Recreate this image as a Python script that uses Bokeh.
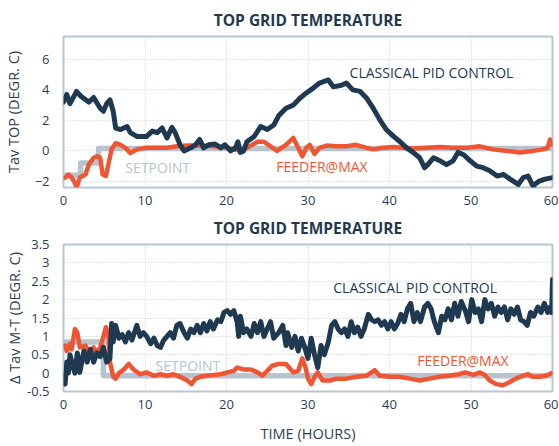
from bokeh.plotting import figure
from bokeh.layouts import column
from bokeh.models import Label, Range1d, FixedTicker
from bokeh.embed import file_html
from bokeh.resources import INLINE

# ---------------- data ----------------
TITLE = "TOP GRID TEMPERATURE"
x_ticks = [0, 10, 20, 30, 40, 50, 60]
x_label = "TIME (HOURS)"

# top panel
top_y_ticks = [-2, 0, 2, 4, 6]
top_y_label = "Tav TOP (DEGR. C)"
top_pid_x = [0, 0.4, 0.8, 1.6, 2.1, 3.1, 3.7, 4.5, 4.9, 5.3, 5.7, 6.1, 6.4, 7, 7.8, 8.2, 9, 10.2, 10.9, 11.5,
             12.1, 12.7, 13.3, 13.7, 14.3, 14.8, 15.6, 16.2, 16.7, 17.2, 17.8, 18.6, 19.3, 19.8, 20.5, 21.1, 21.4,
             21.7, 22.1, 22.5, 23.4, 24.2, 25, 25.8, 26.4, 27.3, 28.2, 29, 29.8, 30.6, 31.4, 32.5, 33.1, 34.1,
             34.7, 35.5, 36.4, 37.2, 38, 38.8, 39.6, 40.5, 41.3, 42.1, 42.9, 43.7, 44.3, 44.7, 45.4, 46.2, 47,
             47.8, 48.4, 49.1, 49.9, 50.7, 51.5, 52.3, 53.2, 54, 54.8, 55.8, 56.4, 57, 57.6, 58.3, 59.1, 60]
top_pid_y = [3.2, 3.7, 3.1, 3.9, 3.6, 3.2, 3.5, 2.8, 2.6, 3.1, 3.35, 2.6, 1.5, 1.4, 1.6, 1.2, 0.95, 0.95, 1.3, 1.2,
             1.5, 0.85, 1.55, 1.2, 0.4, 0, 0.2, 0.4, 0.75, 0.2, 0.4, 0.45, 0.2, 0.4, 0, 0.2, 0.6,
             -0.1, 0, 0.6, 0.95, 1.6, 1.4, 1.7, 2.3, 2.8, 3.0, 3.45, 3.8, 4.1, 4.45, 4.65, 4.2, 4.3,
             4.45, 4.0, 3.9, 3.45, 2.8, 2.05, 1.4, 0.95, 0.6, 0.2, -0.1, -0.45, -1.1, -0.9, -0.45, -0.65, -0.9,
             -0.65, -0.1, -0.25, -0.65, -1.0, -1.1, -1.3, -1.65, -1.55, -1.85, -2.2, -1.75, -1.65, -2.3, -2.0, -1.85, -1.75]
top_feed_x = [0.2, 0.6, 1, 1.4, 1.6, 2, 2.7, 3.1, 3.7, 4.1, 4.5, 4.8, 5.2, 5.5, 5.9, 6.4, 7, 7.6, 8.2, 9,
              10.2, 11.5, 12.7, 13.9, 15.2, 16.8, 18.4, 20.1, 21.7, 22.5, 23.8, 24.6, 25.4, 26.2, 27.3, 28.2,
              28.8, 29.3, 29.8, 30.2, 30.8, 31.4, 32.3, 33.5, 34.7, 35.9, 37.2, 38, 39.2, 40.5, 41.7, 42.9,
              44.5, 46.2, 47.8, 49.5, 51.1, 52.7, 54.4, 56, 57.6, 58.8, 59.4, 59.7, 60]
top_feed_y = [-1.75, -1.55, -1.75, -2.1, -2.4, -1.75, -1.55, -0.9, -0.45, -0.35, -0.45, -1.55, -1.65, -0.9, 0.1,
              0.5, 0.4, 0.2, -0.15, 0.1, 0.2, 0.2, 0.2, 0.3, 0.35, 0.35, 0.3, 0.2, 0, 0.2, 0.6, 0.6, 0.3, 0,
              0.4, 0.85, 0.2, -0.35, 0.2, 0.4, -0.2, 0.2, 0.35, 0.3, 0.3, 0.4, 0.2, 0.1, 0.2, 0.25, 0.2, 0.15,
              0.2, 0.25, 0.2, 0.2, 0.3, 0.1, 0, -0.1, 0, 0.1, 0.2, 0.75, 0.4]
top_set_x = [0, 2.1, 2.1, 4.3, 4.3, 60]
top_set_y = [-1.6, -1.6, -0.8, -0.8, 0.15, 0.15]

# bottom panel
bot_y_ticks = [-0.5, 0, 0.5, 1, 1.5, 2, 2.5, 3, 3.5]
bot_y_tick_labels = ["-0.5", "0", "0.5", "1", "1.5", "2", "2.5", "3", "3.5"]
bot_y_label = "\u0394 Tav M-T (DEGR. C)"
bot_pid_x = [0, 0.2, 0.4, 0.6, 0.8, 1.2, 1.4, 1.7, 2.0, 2.5, 2.9, 3.3, 3.7, 4.1, 4.5, 4.9, 5.3, 5.7, 5.9, 6.1,
             6.4, 6.8, 7.2, 7.6, 8.0, 8.4, 9.0, 9.4, 9.8, 10.2, 10.7, 11.1, 11.5, 11.9, 12.3, 12.7, 13.1, 13.5,
             13.9, 14.3, 14.8, 15.2, 15.6, 16, 16.4, 16.8, 17.2, 17.6, 18, 18.4, 18.9, 19.3, 19.7, 20.1, 20.5,
             20.9, 21.3, 21.5, 21.7, 22.1, 22.5, 23, 23.4, 23.8, 24.2, 24.6, 25, 25.4, 25.8, 26.4, 26.9, 27.3,
             27.5, 28, 28.4, 28.8, 29.2, 29.6, 30, 30.4, 30.8, 31.2, 31.6, 32, 32.5, 32.9, 33.3, 33.7, 34.1,
             34.5, 34.9, 35.3, 35.7, 36.1, 36.5, 36.9, 37.4, 37.8, 38.2, 38.6, 39, 39.4, 39.8, 40.2, 40.6, 41,
             41.4, 41.8, 42.2, 42.6, 43, 43.4, 43.8, 44.3, 44.7, 45.1, 45.5, 46, 46.4, 46.8, 47.2, 47.6, 48,
             48.4, 48.8, 49.3, 49.7, 50.1, 50.5, 50.9, 51.3, 51.7, 52.1, 52.5, 52.9, 53.3, 53.7, 54.1, 54.5,
             54.9, 55.3, 55.7, 56.1, 56.5, 56.9, 57.3, 57.7, 58.2, 58.6, 59, 59.4, 59.7, 59.9, 60]
bot_pid_y = [-0.07, -0.3, 0.3, 0, 0.5, 0.15, 0, 0.55, 0.02, 0.6, 0.3, 0.65, 0.3, 0.55, 0.45, 0.7, 0.3, 0.4, 1.35, 0.85,
             1.3, 0.95, 1.05, 0.85, 1.1, 0.9, 1.3, 1.0, 1.1, 1.0, 0.8, 0.95, 0.75, 0.7, 0.9, 1.0, 1.1, 0.95,
             1.3, 1.35, 1.1, 0.95, 1.2, 1.1, 1.3, 1.1, 1.35, 1.15, 1.4, 1.2, 1.45, 1.4, 1.65, 1.7, 1.6,
             1.7, 1.4, 1.0, 1.55, 1.1, 1.2, 1.0, 1.35, 1.1, 1.4, 1.0, 1.2, 1.4, 0.95, 1.1, 1.3, 0.75,
             1.1, 0.7, 1.0, 0.6, 0.95, 0.7, 0.4, 0.95, 0.5, 0.15, 0.75, 0.5, 0.85, 1.3, 1.4, 1.2, 1.1,
             1.2, 1.0, 1.4, 1.1, 1.25, 1.0, 1.2, 1.6, 1.45, 1.4, 1.45, 1.3, 1.4, 1.2, 1.4, 1.2, 1.35,
             1.6, 1.4, 1.75, 1.9, 1.4, 1.65, 1.4, 1.8, 1.9, 1.75, 1.4, 1.1, 1.55, 1.45, 1.75, 1.45, 1.9,
             1.55, 1.95, 1.7, 1.4, 2.0, 1.65, 1.75, 1.4, 2.0, 1.75, 1.9, 1.55, 1.8, 1.65, 1.8, 1.45,
             1.75, 1.6, 1.8, 1.45, 1.4, 1.3, 1.65, 1.55, 1.8, 1.65, 1.9, 1.65, 1.8, 1.65, 2.55]
bot_feed_x = [0.2, 0.4, 0.8, 1, 1.4, 1.7, 2, 2.7, 3.1, 3.7, 4.1, 4.5, 4.9, 5.2, 5.5, 5.7, 6.1, 6.4, 6.8, 7.4, 8,
              8.6, 9.4, 10.2, 11.1, 11.9, 12.7, 13.5, 14.3, 15.2, 15.7, 16.2, 16.8, 17.6, 18.4, 19.3, 20.1,
              20.9, 21.3, 22.1, 23, 23.8, 24.4, 25, 25.6, 26.4, 27.3, 28.2, 28.8, 29.3, 29.7, 30, 30.4, 30.8,
              31.2, 31.8, 32.7, 33.5, 34.7, 35.9, 37.2, 38.2, 38.8, 40, 41.2, 42.5, 43.7, 44.9, 46.1, 47.3,
              48.5, 49.3, 50.3, 51.1, 51.7, 52.3, 53.1, 53.9, 54.7, 55.5, 56.4, 57, 57.6, 58.4, 59.2, 59.9]
bot_feed_y = [0.75, 0.6, 0.8, 0.65, 1.2, 1.1, 0.7, 0.75, 0.55, 0.7, 0.55, 0.7, 1.0, 1.25, 1.0, 0.3, -0.1, -0.15, 0,
              0.1, 0.25, 0.1, -0.03, 0.02, -0.07, -0.03, -0.07, -0.03, -0.1, -0.2, -0.3, -0.15, -0.1, -0.07,
              -0.05, -0.03, 0.02, 0.06, 0.15, 0.1, 0.1, 0.02, -0.07, 0.06, 0.2, 0.25, 0.25, 0.02, 0.06, 0.4,
              0.15, -0.15, -0.3, -0.1, 0.02, -0.2, -0.2, -0.15, -0.15, -0.1, -0.07, 0.08, -0.07, -0.1, -0.1,
              -0.15, -0.2, -0.15, -0.1, -0.07, -0.03, 0.02, -0.05, 0.02, -0.05, -0.2, -0.3, -0.33, -0.25,
              -0.15, -0.07, -0.03, -0.1, -0.1, -0.07, 0.0]
bot_set_x = [0, 4.9, 4.9, 60]
bot_set_y = [0.85, 0.85, -0.07, -0.07]

assert len(top_pid_x) == len(top_pid_y), (len(top_pid_x), len(top_pid_y))
assert len(top_feed_x) == len(top_feed_y), (len(top_feed_x), len(top_feed_y))
assert len(bot_pid_x) == len(bot_pid_y), (len(bot_pid_x), len(bot_pid_y))
assert len(bot_feed_x) == len(bot_feed_y), (len(bot_feed_x), len(bot_feed_y))

# ---------------- style ----------------
FONT = "Open Sans"
NAVY = "#1f3a50"
ORANGE = "#ef5533"
GRAY = "#b8c3ce"
TEXT = "#2b3e52"
FRAME = "#b9c6d3"


def make_panel(y_range, y_ticks, y_label, set_x, set_y, pid_x, pid_y, feed_x, feed_y,
               height, border_top, border_bottom, title_standoff, show_xlabel, y_label_standoff,
               tick_overrides=None):
    p = figure(width=558, height=height, x_range=Range1d(0, 60), y_range=Range1d(*y_range),
               output_backend="svg", toolbar_location=None,
               min_border_left=62, min_border_right=6,
               min_border_top=border_top, min_border_bottom=border_bottom)
    p.title.text = TITLE
    p.title.align = "center"
    p.title.text_font = FONT
    p.title.text_font_style = "bold"
    p.title.text_font_size = "15.5px"
    p.title.text_color = NAVY
    p.title.standoff = title_standoff
    p.outline_line_color = FRAME
    p.outline_line_width = 2
    p.background_fill_color = "white"
    p.border_fill_color = "white"

    p.xaxis.ticker = FixedTicker(ticks=x_ticks)
    p.yaxis.ticker = FixedTicker(ticks=y_ticks)
    if tick_overrides:
        p.yaxis.major_label_overrides = tick_overrides
    for ax in (p.xaxis, p.yaxis):
        ax.axis_line_color = None
        ax.major_tick_line_color = None
        ax.minor_tick_line_color = None
        ax.major_label_text_font = FONT
        ax.major_label_text_font_size = "13px"
        ax.major_label_text_color = TEXT
        ax.axis_label_text_font = FONT
        ax.axis_label_text_font_size = "14.5px"
        ax.axis_label_text_font_style = "normal"
        ax.axis_label_text_color = TEXT
    p.xaxis.major_label_standoff = 2
    p.yaxis.major_label_standoff = 8
    p.yaxis.axis_label = y_label
    p.yaxis.axis_label_standoff = y_label_standoff
    if show_xlabel:
        p.xaxis.axis_label = x_label
        p.xaxis.axis_label_standoff = 12

    for g in (p.xgrid, p.ygrid):
        g.grid_line_color = "#c3ccd6"
        g.grid_line_dash = "1 2"
        g.grid_line_width = 1

    p.line(set_x, set_y, line_color=GRAY, line_width=5.5, line_join="round")
    p.line(feed_x, feed_y, line_color=ORANGE, line_width=4.5, line_join="round", line_cap="round")
    p.line(pid_x, pid_y, line_color=NAVY, line_width=5, line_join="round", line_cap="round")
    return p


p1 = make_panel((-2.4, 7.5), top_y_ticks, top_y_label, top_set_x, top_set_y, top_pid_x, top_pid_y,
                top_feed_x, top_feed_y, 209, 33, 22, 12, False, 9)
p2 = make_panel((-0.5, 3.5), bot_y_ticks, bot_y_label, bot_set_x, bot_set_y, bot_pid_x, bot_pid_y,
                bot_feed_x, bot_feed_y, 236, 28, 54, 11, True, 0,
                tick_overrides={t: s for t, s in zip(bot_y_ticks, bot_y_tick_labels)})


def note(p, x, y, text, color):
    p.add_layout(Label(x=x, y=y, text=text, text_color=color, text_font=FONT, text_font_size="14px",
                       text_baseline="middle", text_align="left"))


note(p1, 35.1, 5.16, "CLASSICAL PID CONTROL", NAVY)
note(p1, 7.6, -1.1, "SETPOINT", GRAY)
note(p1, 26.1, -1.03, "FEEDER@MAX", ORANGE)
note(p2, 33.1, 2.32, "CLASSICAL PID CONTROL", NAVY)
note(p2, 11.3, 0.21, "SETPOINT", GRAY)
note(p2, 43.4, 0.34, "FEEDER@MAX", ORANGE)

layout = column(p1, p2, spacing=0)
open("out.html", "w").write(file_html(layout, INLINE))
